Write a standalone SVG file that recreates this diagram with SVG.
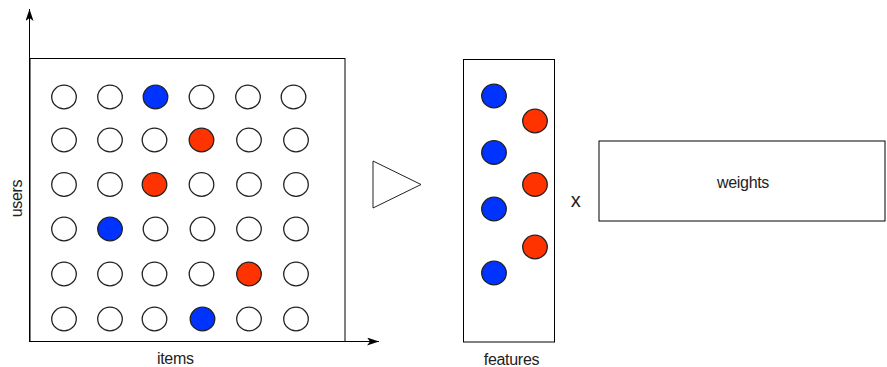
<svg xmlns="http://www.w3.org/2000/svg" width="887" height="367" viewBox="0 0 887 367">
  <style>
    .box { fill: #ffffff; stroke: #000000; stroke-width: 1; }
    .dot { stroke: #222222; stroke-width: 1.3; }
    .empty { fill: #ffffff; }
    .blue { fill: #0033ff; }
    .red { fill: #ff3300; }
    .axis { fill: none; stroke: #000000; stroke-width: 1; }
    .label { font-family: "Liberation Sans", Arial, sans-serif; font-size: 16px; letter-spacing: -0.3px; fill: #222222; }
    .op { font-family: "Liberation Sans", Arial, sans-serif; font-size: 20px; fill: #222222; }
  </style>
  <defs>
    <marker id="arrow" viewBox="0 0 12 8" refX="12" refY="4" markerWidth="12" markerHeight="8" markerUnits="userSpaceOnUse" orient="auto">
      <path d="M0,0 L12,4 L0,8 L3,4 Z" fill="#000000"/>
    </marker>
  </defs>

  <!-- rating matrix: users x items -->
  <g id="matrix">
    <rect class="box" x="30" y="58.5" width="315" height="283"/>
    <g id="matrix-dots">
      <!-- row 1 -->
      <ellipse class="dot empty" cx="64" cy="97" rx="12.3" ry="11.8"/>
      <ellipse class="dot empty" cx="110" cy="97" rx="12.3" ry="11.8"/>
      <ellipse class="dot blue" cx="155.5" cy="97" rx="12.3" ry="11.8"/>
      <ellipse class="dot empty" cx="201.5" cy="97" rx="12.3" ry="11.8"/>
      <ellipse class="dot empty" cx="248" cy="97" rx="12.3" ry="11.8"/>
      <ellipse class="dot empty" cx="293.5" cy="97" rx="12.3" ry="11.8"/>
      <!-- row 2 -->
      <ellipse class="dot empty" cx="64" cy="140" rx="12.3" ry="11.8"/>
      <ellipse class="dot empty" cx="110" cy="140" rx="12.3" ry="11.8"/>
      <ellipse class="dot empty" cx="154.5" cy="140" rx="12.3" ry="11.8"/>
      <ellipse class="dot red" cx="201.5" cy="140" rx="12.3" ry="11.8"/>
      <ellipse class="dot empty" cx="249" cy="140" rx="12.3" ry="11.8"/>
      <ellipse class="dot empty" cx="296" cy="140" rx="12.3" ry="11.8"/>
      <!-- row 3 -->
      <ellipse class="dot empty" cx="64" cy="184.5" rx="12.3" ry="11.8"/>
      <ellipse class="dot empty" cx="110" cy="184.5" rx="12.3" ry="11.8"/>
      <ellipse class="dot red" cx="154.5" cy="184.5" rx="12.3" ry="11.8"/>
      <ellipse class="dot empty" cx="201.5" cy="184.5" rx="12.3" ry="11.8"/>
      <ellipse class="dot empty" cx="249" cy="184.5" rx="12.3" ry="11.8"/>
      <ellipse class="dot empty" cx="296" cy="184.5" rx="12.3" ry="11.8"/>
      <!-- row 4 -->
      <ellipse class="dot empty" cx="64" cy="229" rx="12.3" ry="11.8"/>
      <ellipse class="dot blue" cx="110" cy="229" rx="12.3" ry="11.8"/>
      <ellipse class="dot empty" cx="155.5" cy="229" rx="12.3" ry="11.8"/>
      <ellipse class="dot empty" cx="202.5" cy="229" rx="12.3" ry="11.8"/>
      <ellipse class="dot empty" cx="249" cy="229" rx="12.3" ry="11.8"/>
      <ellipse class="dot empty" cx="296" cy="229" rx="12.3" ry="11.8"/>
      <!-- row 5 -->
      <ellipse class="dot empty" cx="64" cy="274" rx="12.3" ry="11.8"/>
      <ellipse class="dot empty" cx="110" cy="274" rx="12.3" ry="11.8"/>
      <ellipse class="dot empty" cx="154.5" cy="274" rx="12.3" ry="11.8"/>
      <ellipse class="dot empty" cx="201.5" cy="274" rx="12.3" ry="11.8"/>
      <ellipse class="dot red" cx="249" cy="274" rx="12.3" ry="11.8"/>
      <ellipse class="dot empty" cx="296" cy="274" rx="12.3" ry="11.8"/>
      <!-- row 6 -->
      <ellipse class="dot empty" cx="64" cy="319" rx="12.3" ry="11.8"/>
      <ellipse class="dot empty" cx="110" cy="319" rx="12.3" ry="11.8"/>
      <ellipse class="dot empty" cx="154.5" cy="319" rx="12.3" ry="11.8"/>
      <ellipse class="dot blue" cx="202.5" cy="319" rx="12.3" ry="11.8"/>
      <ellipse class="dot empty" cx="249" cy="319" rx="12.3" ry="11.8"/>
      <ellipse class="dot empty" cx="296" cy="319" rx="12.3" ry="11.8"/>
    </g>
  </g>

  <!-- axes -->
  <g id="connectors">
    <line class="axis" x1="29.5" y1="342" x2="29.5" y2="9" marker-end="url(#arrow)"/>
    <line class="axis" x1="29.5" y1="341.5" x2="379" y2="341.5" marker-end="url(#arrow)"/>
  </g>

  <g id="axis-labels">
    <text class="label" x="175.3" y="364" text-anchor="middle">items</text>
    <text class="label" x="0" y="0" text-anchor="middle" transform="translate(21.5 198.5) rotate(-90)">users</text>
  </g>

  <!-- transform symbol -->
  <g id="transform">
    <polygon points="373,161 373,208 421,184.5" fill="#ffffff" stroke="#222222" stroke-width="1"/>
  </g>

  <!-- latent feature vector -->
  <g id="features">
    <rect class="box" x="463.5" y="59.5" width="91" height="282.5"/>
    <ellipse class="dot blue" cx="494" cy="96" rx="12.3" ry="11.8"/>
    <ellipse class="dot blue" cx="494" cy="152.5" rx="12.3" ry="11.8"/>
    <ellipse class="dot blue" cx="494" cy="209" rx="12.3" ry="11.8"/>
    <ellipse class="dot blue" cx="494" cy="273" rx="12.3" ry="11.8"/>
    <ellipse class="dot red" cx="535" cy="121" rx="12.3" ry="11.8"/>
    <ellipse class="dot red" cx="535" cy="184.5" rx="12.3" ry="11.8"/>
    <ellipse class="dot red" cx="535" cy="247" rx="12.3" ry="11.8"/>
    <text class="label" x="511.5" y="365" text-anchor="middle">features</text>
  </g>

  <g id="times">
    <text class="op" x="575.7" y="206.7" text-anchor="middle">x</text>
  </g>

  <!-- weight matrix -->
  <g id="weights">
    <rect class="box" x="599" y="141" width="286" height="80"/>
    <text class="label" x="743" y="187.5" text-anchor="middle">weights</text>
  </g>
</svg>
